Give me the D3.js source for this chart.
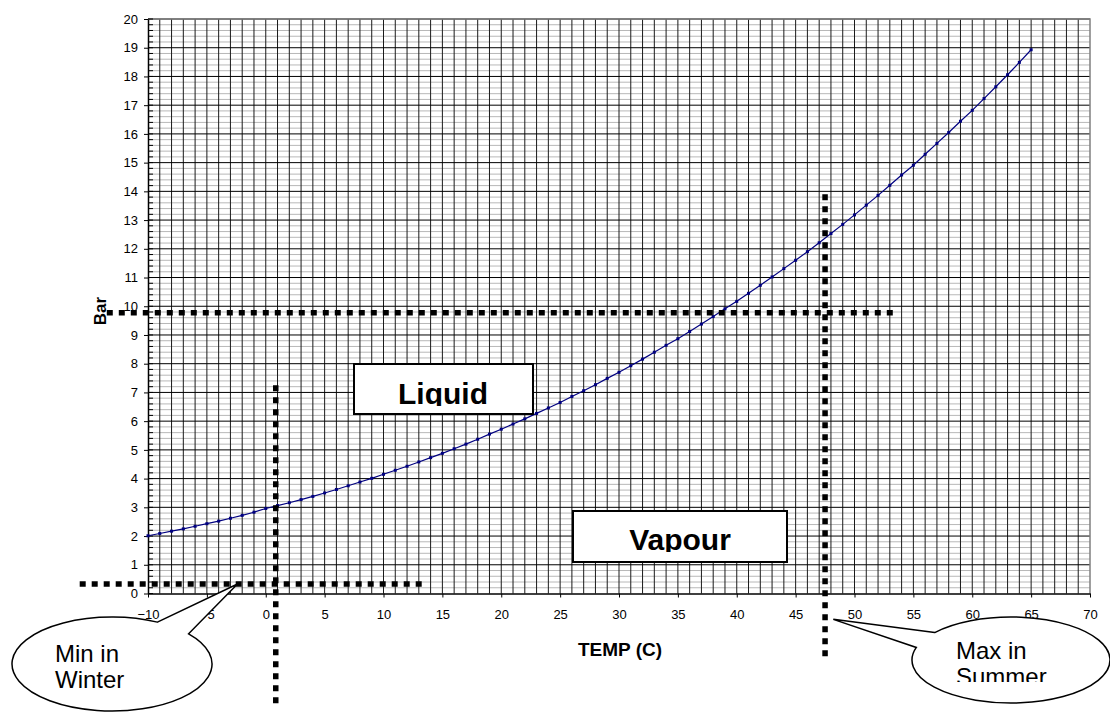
<!DOCTYPE html>
<html>
<head>
<meta charset="utf-8">
<script src="https://cdn.jsdelivr.net/npm/d3@7"></script>
<style>
  body { margin: 0; background: #fff; }
  svg { display: block; font-family: Arial, "Liberation Sans", sans-serif; }
</style>
</head>
<body>
<div id="chart"></div>
<script>
// temperature (C) of each point on the curve
const temps = [-10,-9,-8,-7,-6,-5,-4,-3,-2,-1,0,1,2,3,4,5,6,7,8,9,10,11,12,13,14,15,16,17,18,19,
	20,21,22,23,24,25,26,27,28,29,30,31,32,33,34,35,36,37,38,39,40,41,42,43,44,45,46,47,48,49,
	50,51,52,53,54,55,56,57,58,59,60,61,62,63,64,65];
// pressure (bar)
const pressures = [2.01,2.09,2.17,2.25,2.34,2.43,2.52,2.62,2.72,2.83,2.96,3.06,3.16,3.27,3.38,3.50,3.62,3.75,3.88,4.01,
	4.15,4.29,4.43,4.58,4.73,4.88,5.04,5.20,5.37,5.55,5.72,5.90,6.08,6.27,6.46,6.65,6.86,7.06,7.27,7.49,
	7.70,7.93,8.16,8.40,8.64,8.87,9.12,9.38,9.64,9.91,10.17,10.45,10.73,11.02,11.31,11.60,11.90,12.21,12.53,12.85,
	13.18,13.52,13.86,14.21,14.57,14.91,15.29,15.67,16.05,16.44,16.82,17.23,17.64,18.06,18.49,18.93];

const xTicks = [-10,-5,0,5,10,15,20,25,30,35,40,45,50,55,60,65,70];
const yTicks = [0,1,2,3,4,5,6,7,8,9,10,11,12,13,14,15,16,17,18,19,20];

// dotted marker lines, in data units (temp, bar)
const refLines = [
	{x1: -13.5, y1: 9.77, x2: 53.3, y2: 9.77},
	{x1: 47.5, y1: 13.9, x2: 47.5, y2: -2.3},
	{x1: 0.85, y1: 7.25, x2: 0.85, y2: -3.9},
	{x1: -15.8, y1: 0.33, x2: 13.3, y2: 0.33}
];

const width = 1110, height = 712;

const svg = d3.select("#chart").append("svg")
	.attr("width", width)
	.attr("height", height);

const x = d3.scaleLinear().domain([-10, 70]).range([148, 1090]);
const y = d3.scaleLinear().domain([0, 20]).range([593.5, 19]);

// Gridlines
let grid = svg.append("g");
let minorY = d3.range(0, 20.001, 0.2).filter(v => Math.abs(v - Math.round(v)) > 0.01);
minorY.forEach(v =>
	grid.append("line")
		.attr("x1", x(-10)).attr("x2", x(70))
		.attr("y1", y(v)).attr("y2", y(v))
		.attr("stroke", "#b8b8b8")
		.attr("stroke-width", 1)
);
d3.range(-9, 70).forEach(v =>
	grid.append("line")
		.attr("x1", x(v)).attr("x2", x(v))
		.attr("y1", y(0)).attr("y2", y(20))
		.attr("stroke", "#1a1a1a")
		.attr("stroke-width", 1)
);
yTicks.slice(1).forEach(v =>
	grid.append("line")
		.attr("x1", x(-10)).attr("x2", x(70))
		.attr("y1", y(v)).attr("y2", y(v))
		.attr("stroke", "#000")
		.attr("stroke-width", 1)
);

// plot border, top and right
svg.append("path")
	.attr("d", `M${x(-10)},${y(20)}H${x(70)}V${y(0)}`)
	.attr("fill", "none")
	.attr("stroke", "#808080")
	.attr("stroke-width", 1.5);

// Axes
let yAxis = svg.append("g")
	.attr("transform", `translate(${x(-10)},0)`)
	.call(d3.axisLeft(y).tickValues(yTicks).tickSizeInner(4).tickSizeOuter(0).tickPadding(6));
let xAxis = svg.append("g")
	.attr("transform", `translate(0,${y(0)})`)
	.call(d3.axisBottom(x).tickValues(xTicks).tickSizeInner(4).tickSizeOuter(0).tickPadding(12));

[yAxis, xAxis].forEach(a => {
	a.selectAll("text").attr("font-size", 13).attr("font-family", "Arial, 'Liberation Sans', sans-serif").attr("fill", "#000");
	a.selectAll("line").attr("stroke", "#000");
	a.select(".domain").attr("stroke", "#000").attr("stroke-width", 1.5);
});

// minor ticks on the y axis, pointing inside
minorY.concat(yTicks).forEach(v =>
	svg.append("line")
		.attr("x1", x(-10)).attr("x2", x(-10) + 5)
		.attr("y1", y(v)).attr("y2", y(v))
		.attr("stroke", "#000")
);

// Axis titles
svg.append("text")
	.attr("x", 620).attr("y", 656)
	.attr("text-anchor", "middle")
	.attr("font-weight", "bold")
	.attr("font-size", 19)
	.text("TEMP (C)");
svg.append("text")
	.attr("transform", `translate(106,311) rotate(-90)`)
	.attr("text-anchor", "middle")
	.attr("font-weight", "bold")
	.attr("font-size", 17)
	.text("Bar");

// The curve
let points = temps.map((t, i) => ({t: t, p: pressures[i]}));
let line = d3.line()
	.x(d => x(d.t))
	.y(d => y(d.p));
svg.append("path")
	.datum(points)
	.attr("d", line)
	.attr("fill", "none")
	.attr("stroke", "#000080")
	.attr("stroke-width", 1.2);
svg.selectAll(".mk")
	.data(points)
	.enter().append("rect")
	.attr("class", "mk")
	.attr("x", d => x(d.t) - 1.5)
	.attr("y", d => y(d.p) - 1.5)
	.attr("width", 3)
	.attr("height", 3)
	.attr("fill", "#000080");

// Dotted lines
refLines.forEach(r =>
	svg.append("line")
		.attr("x1", x(r.x1)).attr("y1", y(r.y1))
		.attr("x2", x(r.x2)).attr("y2", y(r.y2))
		.attr("stroke", "#000")
		.attr("stroke-width", 5.5)
		.attr("stroke-dasharray", "6,6")
);

// Labelled boxes, text cut off by the box like the original
function labelBox(id, x0, y0, w, h, label, tx, ty, clipY) {
	svg.append("clipPath").attr("id", id)
		.append("rect").attr("x", x0).attr("y", y0).attr("width", w).attr("height", clipY - y0);
	svg.append("rect")
		.attr("x", x0).attr("y", y0).attr("width", w).attr("height", h)
		.attr("fill", "#fff")
		.attr("stroke", "#000")
		.attr("stroke-width", 2);
	svg.append("text")
		.attr("clip-path", `url(#${id})`)
		.attr("x", tx).attr("y", ty)
		.attr("text-anchor", "middle")
		.attr("font-weight", "bold")
		.attr("font-size", 30)
		.text(label);
}
labelBox("clipLiquid", 354, 364, 179, 50, "Liquid", 443, 404, 406);
labelBox("clipVapour", 573, 511, 214, 51, "Vapour", 680, 550, 552);

// Callout bubbles
function callout(id, cx, cy, rx, ry, a1, a2, tip, sweep, lines, tx, ty, clipBottom) {
	let p1 = [cx + rx * Math.cos(a1 * Math.PI / 180), cy + ry * Math.sin(a1 * Math.PI / 180)];
	let p2 = [cx + rx * Math.cos(a2 * Math.PI / 180), cy + ry * Math.sin(a2 * Math.PI / 180)];
	svg.append("path")
		.attr("d", `M${p1}L${x(tip[0])},${y(tip[1])}L${p2}A${rx},${ry} 0 1 ${sweep} ${p1}Z`)
		.attr("fill", "#fff")
		.attr("stroke", "#000")
		.attr("stroke-width", 1.5);
	svg.append("clipPath").attr("id", id)
		.append("rect").attr("x", cx - rx).attr("y", cy - ry).attr("width", 2 * rx).attr("height", clipBottom - (cy - ry));
	let t = svg.append("text")
		.attr("clip-path", `url(#${id})`)
		.attr("font-size", 24);
	lines.forEach((s, i) =>
		t.append("tspan").attr("x", tx).attr("y", ty + i * 26).text(s)
	);
}
callout("clipMin", 112, 664, 100, 47, -63, -40, [-2.4, 0.33], 1, ["Min in", "Winter"], 55, 662, 712);
callout("clipMax", 1011, 660, 99, 43, -140.4, -163, [48.2, -0.9], 0, ["Max in", "Summer"], 956, 659, 682);
</script>
</body>
</html>
